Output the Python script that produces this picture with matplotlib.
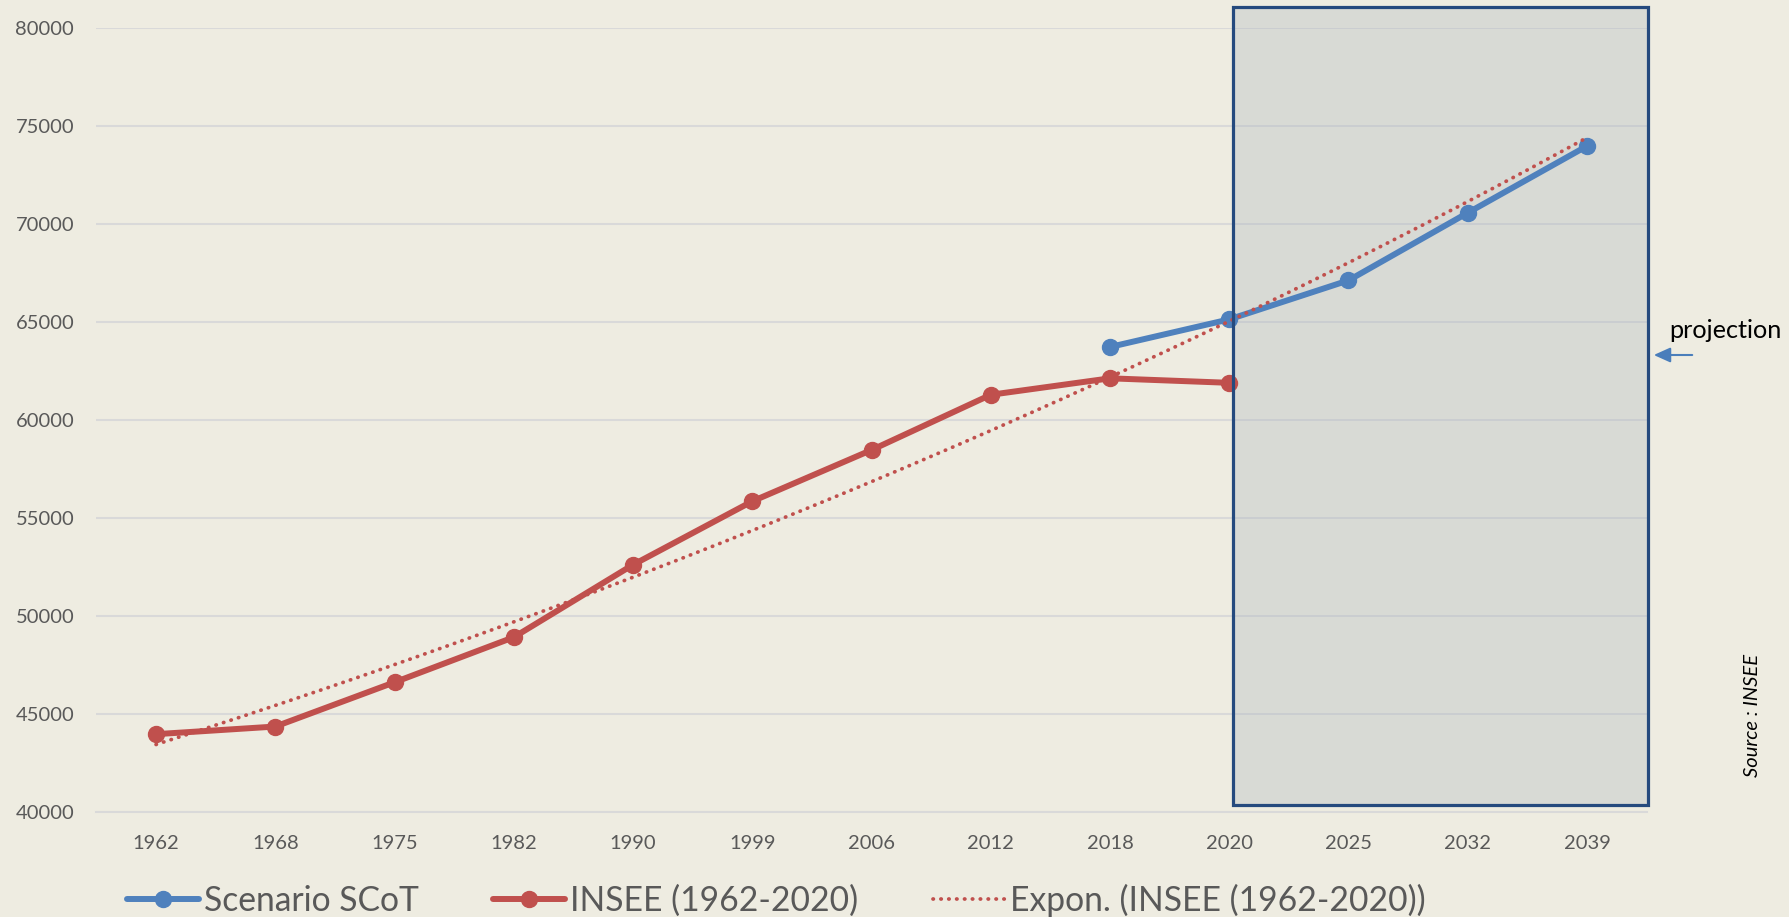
import numpy as np
import matplotlib
matplotlib.use("Agg")
import matplotlib.pyplot as plt
from matplotlib.patches import Rectangle

plt.rcParams['font.family'] = ['Lato', 'DejaVu Sans']

# categories on the x axis (Excel category axis)
years = ["1962", "1968", "1975", "1982", "1990", "1999", "2006",
         "2012", "2018", "2020", "2025", "2032", "2039"]

# INSEE census values 1962-2020
insee_years = ["1962", "1968", "1975", "1982", "1990", "1999", "2006",
               "2012", "2018", "2020"]
insee_values = [43960, 44350, 46610, 48910, 52610, 55850, 58470,
                61290, 62130, 61900]

# SCoT scenario 2018-2039
scot_years = ["2018", "2020", "2025", "2032", "2039"]
scot_values = [63730, 65140, 67130, 70580, 73990]

BG = "#EEECE1"
BLUE = "#4F81BD"
RED = "#C0504D"
GRID = "#D9D9D9"
TICK = "#595959"

fig = plt.figure(figsize=(17.89, 9.17), dpi=100, facecolor=BG)
ax = fig.add_axes([0.0539, 0.1148, 0.8665, 0.8543])
ax.set_facecolor(BG)

x_insee = np.array([years.index(y) for y in insee_years])
x_scot = np.array([years.index(y) for y in scot_years])

# Excel style exponential trendline on the INSEE series, forecast to 2039
coef = np.polyfit(x_insee, np.log(insee_values), 1)
x_trend = np.linspace(0, len(years) - 1, 200)
y_trend = np.exp(np.polyval(coef, x_trend))

# projection box
box_fill = Rectangle((9.03, 40350), 12.51 - 9.03, 81100 - 40350,
                     facecolor="#A8B3BC", alpha=0.3, edgecolor="none",
                     zorder=1.5, clip_on=False)
box_edge = Rectangle((9.03, 40350), 12.51 - 9.03, 81100 - 40350,
                     facecolor="none", edgecolor="#254A7E", linewidth=2.3,
                     zorder=6, clip_on=False)
ax.add_patch(box_fill)

l1, = ax.plot(x_scot, scot_values, color=BLUE, lw=4.3, marker="o",
              ms=11.5, zorder=4, solid_capstyle="round",
              label="Scenario SCoT")
l2, = ax.plot(x_insee, insee_values, color=RED, lw=4.3, marker="o",
              ms=11.5, zorder=3, solid_capstyle="round",
              label="INSEE (1962-2020)")
l3, = ax.plot(x_trend, y_trend, color=RED, lw=2.7, linestyle=(0, (0.1, 2.0)),
              dash_capstyle="round", zorder=5,
              label="Expon. (INSEE (1962-2020))")
ax.add_patch(box_edge)

ax.set_xlim(-0.5, 12.5)
ax.set_ylim(40000, 80000)
ax.set_xticks(range(len(years)))
ax.set_xticklabels(years)
ax.set_yticks(range(40000, 80001, 5000))

ax.yaxis.grid(True, color=GRID, lw=1.5)
ax.set_axisbelow(True)
for side in ["left", "right", "top"]:
    ax.spines[side].set_visible(False)
ax.spines["bottom"].set_color(GRID)
ax.spines["bottom"].set_linewidth(1.5)
ax.tick_params(axis="both", length=0, labelsize=14.5, colors=TICK)
ax.tick_params(axis="x", pad=17)
ax.tick_params(axis="y", pad=16)

fig.legend(handles=[l1, l2, l3], loc="center left",
           bbox_to_anchor=(0.071, 0.0185), ncol=3, frameon=False,
           fontsize=24.2, handlelength=2.15, handletextpad=0.15,
           columnspacing=2.2, borderpad=0, borderaxespad=0,
           labelcolor=TICK)

fig.text(1669 / 1789, 1 - 330 / 917, "projection", fontsize=18.2,
         color="black", ha="left", va="center")
ax.annotate("", xy=(1651 / 1789, 1 - 355 / 917), xycoords="figure fraction",
            xytext=(1695 / 1789, 1 - 355 / 917), textcoords="figure fraction",
            arrowprops=dict(arrowstyle="-|>,head_length=1.0,head_width=0.45",
                            color="#4A7EBB", lw=1.5))
fig.text(1752 / 1789, 1 - 715 / 917, "Source : INSEE", fontsize=14.5,
         style="italic", color="black", rotation=90, ha="center", va="center")

fig.savefig("out.png", dpi=100, facecolor=BG)
